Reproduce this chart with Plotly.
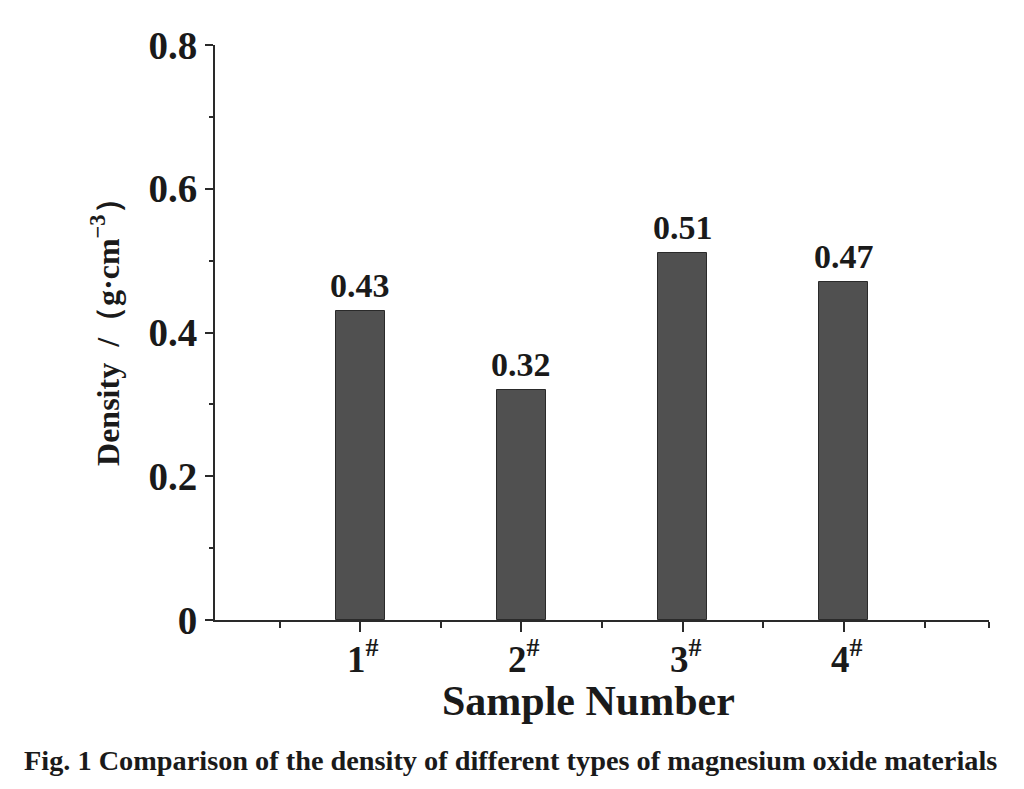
import plotly.graph_objects as go

categories = ["1<sup>#</sup>", "2<sup>#</sup>", "3<sup>#</sup>", "4<sup>#</sup>"]
positions = [1, 2, 3, 4]
density = [0.43, 0.32, 0.51, 0.47]
y_ticks = [0, 0.2, 0.4, 0.6, 0.8]
y_ticktext = ["0", "0.2", "0.4", "0.6", "0.8"]

FONT = "Liberation Serif, Times New Roman, serif"
AX = "#2a2a2a"
TXT = "#1a1a1a"

fig = go.Figure()
fig.add_trace(go.Bar(
    x=positions, y=density, width=0.305,
    marker=dict(color="#505050", line=dict(color="#2a2a2a", width=1)),
    cliponaxis=False,
))
for xv, v in zip(positions, density):
    fig.add_annotation(
        x=xv, y=v, xref="x", yref="y", text=f"<b>{v:.2f}</b>",
        showarrow=False, yanchor="bottom", xanchor="center", yshift=5,
        font=dict(family=FONT, size=34, color=TXT),
    )
# category labels placed on the x axis positions
for xv, c in zip(positions, categories):
    fig.add_annotation(
        x=xv, y=-0.064, xref="x", yref="paper", text=f"<b>{c}</b>",
        showarrow=False, yanchor="middle", xanchor="center", xshift=3,
        font=dict(family=FONT, size=37, color=TXT),
    )

fig.update_layout(
    width=1008, height=773,
    margin=dict(l=207, r=27, t=37, b=161),
    plot_bgcolor="white", paper_bgcolor="white",
    showlegend=False, bargap=0,
    font=dict(family=FONT, color=TXT),
)
fig.update_xaxes(
    range=[0.1, 4.9], tickvals=positions, automargin=False,
    showticklabels=False,
    showline=True, linecolor=AX, linewidth=2,
    ticks="outside", ticklen=10, tickwidth=2, tickcolor=AX,
    minor=dict(tickvals=[0.5, 1.5, 2.5, 3.5, 4.5, 4.9], ticks="outside", ticklen=6, tickwidth=2, tickcolor=AX),
    showgrid=False, zeroline=False,
)
fig.update_yaxes(
    range=[0, 0.8], tickvals=y_ticks, automargin=False,
    ticktext=[f"<b>{t}</b>" for t in y_ticktext],
    tickfont=dict(family=FONT, size=39, color=TXT),
    showline=True, linecolor=AX, linewidth=2,
    ticks="outside", ticklen=8, tickwidth=2, tickcolor=AX,
    minor=dict(dtick=0.1, ticks="outside", ticklen=4, tickwidth=2, tickcolor=AX),
    showgrid=False, zeroline=False,
)
fig.add_annotation(
    text="<b>Sample Number</b>",
    xref="paper", yref="paper", x=0.482, y=-0.14, xanchor="center", yanchor="middle",
    showarrow=False, font=dict(family=FONT, size=42, color=TXT),
)
fig.add_annotation(
    text="<b>Density  /（g·cm<sup>−3</sup>）</b>", textangle=-90,
    xref="paper", yref="paper", x=-0.142, y=0.515, xanchor="center", yanchor="middle",
    showarrow=False, font=dict(family=FONT, size=32, color=TXT),
)
fig.add_annotation(
    text="<b>Fig. 1 Comparison of the density of different types of magnesium oxide materials</b>",
    xref="paper", yref="paper", x=0.382, y=-0.2435,
    xanchor="center", yanchor="middle", showarrow=False,
    font=dict(family=FONT, size=28.3, color=TXT),
)
fig.write_html("out.html")
